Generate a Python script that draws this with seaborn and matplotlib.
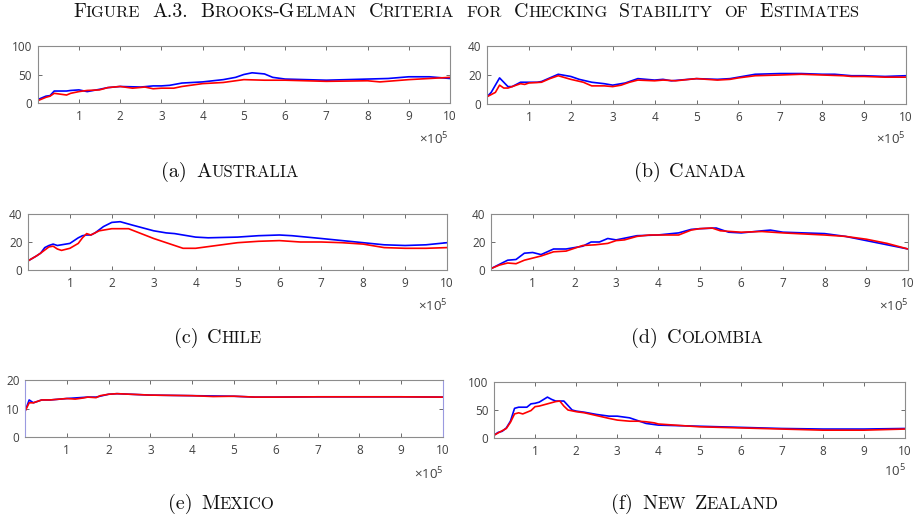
import re
import numpy as np
import pandas as pd
import matplotlib
matplotlib.use('Agg')
import matplotlib.pyplot as plt
import seaborn as sns

# ---------------- data (x in units of 1e5 iterations) ----------------
aus_blue_x = [0, 0.2, 0.3, 0.4, 0.5, 0.7, 0.8, 1.0, 1.2, 1.5, 1.7, 2.0, 2.5, 2.8, 3.0, 3.2, 3.5, 4.0, 4.5, 4.8, 5.0, 5.2, 5.5, 5.7, 6.0, 7.0, 8.0, 8.5, 9.0, 9.5, 10]
aus_blue_y = [6, 12, 13, 21, 21, 21, 22, 23, 20, 24, 27, 29, 28, 30, 30, 31, 35, 37, 41, 45, 50, 53, 51, 45, 42, 40, 42, 43, 46, 46, 43]
aus_red_x = [0, 0.2, 0.3, 0.4, 0.5, 0.7, 0.8, 1.0, 1.2, 1.5, 1.7, 2.0, 2.3, 2.6, 2.8, 3.0, 3.3, 3.5, 4.0, 4.5, 5.0, 5.5, 6.0, 7.0, 8.0, 8.3, 9.0, 10]
aus_red_y = [4, 10, 12, 17, 16, 14, 17, 20, 22, 23, 27, 29, 26, 28, 25, 26, 26, 29, 34, 36, 41, 40, 40, 38, 39, 37, 41, 45]

can_blue_x = [0, 0.1, 0.3, 0.5, 0.6, 0.8, 1.0, 1.2, 1.3, 1.5, 1.7, 2.0, 2.2, 2.5, 2.8, 3.0, 3.3, 3.6, 3.8, 4.0, 4.2, 4.4, 5.0, 5.5, 5.8, 6.0, 6.4, 7.0, 7.5, 8.0, 8.3, 8.7, 9.0, 9.5, 10]
can_blue_y = [5, 8, 18, 12, 12, 15, 15, 15, 15.5, 18, 20.5, 19, 17, 15, 14, 13, 14.5, 17.5, 17, 16.5, 17, 16, 17.5, 17, 17.5, 18.5, 20.5, 21, 21, 20.5, 20.5, 19.5, 19.5, 19, 19.5]
can_red_x = [0, 0.2, 0.3, 0.4, 0.5, 0.8, 0.9, 1.0, 1.3, 1.5, 1.7, 2.0, 2.3, 2.5, 2.8, 3.0, 3.2, 3.4, 3.6, 4.0, 4.2, 4.5, 5.0, 5.5, 5.8, 6.0, 6.4, 7.0, 7.5, 8.0, 8.5, 8.7, 9.0, 9.5, 10]
can_red_y = [5, 8, 13, 11, 11, 14, 13.5, 14.5, 15, 17.5, 19.5, 17, 15, 12.5, 12.5, 12, 13, 15, 16.5, 16, 16.5, 16, 17.5, 16.5, 17, 18, 19.5, 20, 20.5, 20, 19.5, 19, 19, 18.5, 18.5]

chi_blue_x = [0, 0.2, 0.3, 0.4, 0.5, 0.6, 0.7, 0.8, 1.0, 1.1, 1.2, 1.3, 1.4, 1.5, 1.6, 1.8, 2.0, 2.2, 2.5, 3.0, 3.3, 3.5, 4.0, 4.3, 5.0, 5.5, 6.0, 6.3, 7.0, 7.5, 8.0, 8.5, 9.0, 9.5, 10]
chi_blue_y = [6.5, 10, 12, 16, 17.5, 18.5, 17.5, 18, 19, 21, 23, 24.5, 25, 25, 26.5, 31, 34, 34.5, 32, 28, 26.5, 26, 23.5, 23, 23.5, 24.5, 25, 24.5, 22.5, 21, 19.5, 18, 17.5, 18, 19.5]
chi_red_x = [0, 0.2, 0.3, 0.5, 0.6, 0.7, 0.8, 1.0, 1.2, 1.3, 1.4, 1.5, 1.7, 2.0, 2.4, 2.7, 3.0, 3.3, 3.7, 4.0, 4.5, 5.0, 5.5, 6.0, 6.5, 7.0, 7.5, 8.0, 8.5, 9.0, 9.5, 10]
chi_red_y = [6.5, 10, 12, 16.5, 17, 15, 14, 15.5, 19, 23, 26, 25, 28, 29.5, 29.5, 26, 22.5, 19.5, 15.5, 15.5, 17.5, 19.5, 20.5, 21, 20, 20, 19.5, 18.5, 16, 15.5, 15.5, 16]

col_blue_x = [0, 0.2, 0.4, 0.6, 0.8, 1.0, 1.2, 1.5, 1.8, 2.0, 2.2, 2.4, 2.6, 2.8, 3.0, 3.5, 4.0, 4.5, 4.8, 5.0, 5.4, 5.7, 6.0, 6.5, 6.7, 7.0, 8.0, 8.5, 9.0, 9.5, 10]
col_blue_y = [1, 4, 7, 7.5, 12, 12.5, 11, 15, 15, 16, 17, 20, 20, 22.5, 21.5, 24.5, 25, 26.5, 29, 29.5, 30, 27, 26.5, 28, 28.5, 27, 26, 24, 21, 18, 15]
col_red_x = [0, 0.2, 0.4, 0.6, 0.8, 1.0, 1.2, 1.5, 1.8, 2.0, 2.2, 2.5, 2.8, 3.0, 3.2, 3.5, 3.8, 4.0, 4.5, 4.8, 5.0, 5.3, 5.5, 6.0, 6.5, 7.0, 8.0, 8.5, 9.0, 9.5, 10]
col_red_y = [1, 3.5, 5, 4.5, 7, 8.5, 10, 13, 13.5, 15.5, 17.5, 18, 19, 21, 21.5, 24, 25, 25, 25, 28.5, 29.5, 30, 28, 27, 27.5, 26.5, 25, 24, 22, 19, 15]

mex_blue_x = [0, 0.05, 0.1, 0.2, 0.4, 0.6, 1.0, 1.5, 1.7, 2.0, 2.2, 3.0, 4.0, 5.0, 5.5, 6.0, 7.0, 8.0, 9.0, 10]
mex_blue_y = [9, 11, 13, 12, 13, 13, 13.5, 14, 14, 15, 15.2, 14.7, 14.5, 14.3, 14, 14, 14.1, 14.1, 14.1, 14]
mex_red_x = [0, 0.1, 0.2, 0.4, 0.6, 1.0, 1.2, 1.4, 1.5, 1.7, 1.8, 2.0, 2.2, 3.0, 4.0, 4.5, 5.0, 5.5, 6.0, 7.0, 8.0, 9.0, 10]
mex_red_y = [9, 12, 12, 13, 13, 13.5, 13.3, 13.7, 14, 13.8, 14.5, 15, 15.2, 14.7, 14.5, 14.2, 14.3, 14, 14, 14.1, 14.1, 14.1, 14]

nz_blue_x = [0, 0.1, 0.2, 0.3, 0.4, 0.5, 0.6, 0.8, 0.9, 1.0, 1.1, 1.3, 1.4, 1.5, 1.7, 1.8, 1.9, 2.0, 2.2, 2.5, 2.8, 3.0, 3.3, 3.5, 3.7, 4.0, 5.0, 6.0, 7.0, 8.0, 9.0, 10]
nz_blue_y = [5, 10, 12, 18, 30, 53, 55, 55, 61, 62, 64, 73, 69, 66, 66, 58, 50, 48, 46, 42, 39, 39, 36, 31, 26, 23, 21, 19, 17, 16, 16, 17]
nz_red_x = [0, 0.1, 0.3, 0.4, 0.5, 0.6, 0.7, 0.9, 1.0, 1.1, 1.3, 1.5, 1.6, 1.7, 1.8, 2.0, 2.2, 2.5, 2.8, 3.0, 3.3, 3.5, 3.7, 3.9, 4.0, 5.0, 6.0, 7.0, 8.0, 9.0, 10]
nz_red_y = [5, 9, 17, 28, 43, 45, 43, 49, 56, 57, 61, 65, 66, 57, 50, 47, 45, 40, 35, 32, 30, 30, 29, 27, 25, 20, 18, 16, 14, 14, 16]

titles = ["(a) Australia", "(b) Canada", "(c) Chile", "(d) Colombia", "(e) Mexico", "(f) New Zealand"]
ymaxes = [100, 40, 40, 40, 20, 100]
yticks_list = [[0, 50, 100], [0, 20, 40], [0, 20, 40], [0, 20, 40], [0, 10, 20], [0, 50, 100]]
xticks = [1, 2, 3, 4, 5, 6, 7, 8, 9, 10]
exp_labels = [r'$\times10^{5}$'] * 5 + [r'$10^{5}$']
fig_title = "Figure A.3. Brooks-Gelman Criteria for Checking Stability of Estimates"

series = [
    (aus_blue_x, aus_blue_y, aus_red_x, aus_red_y),
    (can_blue_x, can_blue_y, can_red_x, can_red_y),
    (chi_blue_x, chi_blue_y, chi_red_x, chi_red_y),
    (col_blue_x, col_blue_y, col_red_x, col_red_y),
    (mex_blue_x, mex_blue_y, mex_red_x, mex_red_y),
    (nz_blue_x, nz_blue_y, nz_red_x, nz_red_y),
]

# ---------------- style ----------------
sns.set_style('white')
plt.rcParams['font.family'] = ['Open Sans', 'DejaVu Sans']
plt.rcParams['mathtext.fontset'] = 'custom'
plt.rcParams['mathtext.rm'] = 'Open Sans'
plt.rcParams['mathtext.it'] = 'Open Sans'

W, H = 914, 519
fig = plt.figure(figsize=(W / 100, H / 100), dpi=100)
fig.patch.set_facecolor('white')

# axes boxes in pixels: left, right, top, bottom
boxes = [
    (37.7, 450, 46, 103),
    (487, 906, 46, 104),
    (28, 447, 214, 270),
    (491, 908, 214, 270),
    (25, 443, 380, 437),
    (494, 905, 382, 438),
]
exp_pos = [(449, 139), (906, 139), (448, 306), (909, 306), (444, 474), (906, 471)]
cap_pos = [(230, 177), (690, 177), (218, 343), (697, 343), (221, 509), (695, 509)]

spine_col = '#8c8c8c'
text_col = '#404040'

for i, (l, r, t, b) in enumerate(boxes):
    ax = fig.add_axes([l / W, 1 - b / H, (r - l) / W, (b - t) / H])
    bx, by, rx, ry = series[i]
    dfb = pd.DataFrame({'x': bx, 'y': by})
    dfr = pd.DataFrame({'x': rx, 'y': ry})
    sns.lineplot(data=dfb, x='x', y='y', color='#0000ff', lw=1.2, estimator=None, sort=False, ax=ax)
    sns.lineplot(data=dfr, x='x', y='y', color='#ff0000', lw=1.2, estimator=None, sort=False, ax=ax)
    ax.set_xlim(0, 10)
    ax.set_ylim(0, ymaxes[i])
    ax.set_xticks(xticks)
    ax.set_xticklabels([str(v) for v in xticks])
    ax.set_yticks(yticks_list[i])
    ax.set_xlabel('')
    ax.set_ylabel('')
    ax.tick_params(direction='in', top=True, bottom=True, left=True, right=True,
                   length=3, width=0.6, color='#555555', labelcolor=text_col, labelsize=8.5)
    ax.tick_params(axis='x', pad=5)
    ax.tick_params(axis='y', pad=4)
    for sp in ax.spines.values():
        sp.set_color(spine_col)
        sp.set_linewidth(0.8)
        sp.set_visible(True)
    if i == 4:
        ax.spines['left'].set_color('#9a9ae0')
        ax.spines['right'].set_color('#9a9ae0')
    ex, ey = exp_pos[i]
    fig.text(ex / W, 1 - ey / H, exp_labels[i], ha='right', va='center', fontsize=9.5, color=text_col)

renderer = fig.canvas.get_renderer()


def small_caps(xc, yb, s, big, small, prefix=None, family='cmr10', word_gap=1.0):
    texts = []
    gaps = []
    probe1 = fig.text(0, 0, 'A A', fontsize=big, family=family)
    probe2 = fig.text(0, 0, 'AA', fontsize=big, family=family)
    sp = probe1.get_window_extent(renderer).width - probe2.get_window_extent(renderer).width
    probe1.remove(); probe2.remove()
    sp *= word_gap
    items = []
    if prefix is not None:
        items.append((prefix, big, True))
    for w in s.split(' '):
        runs = re.findall(r'[a-z]+|[^a-z]+', w)
        for j, run in enumerate(runs):
            if run.islower():
                items.append((run.upper(), small, j == len(runs) - 1))
            else:
                items.append((run, big, j == len(runs) - 1))
    for txt, sz, endword in items:
        t = fig.text(0, 1 - yb / H, txt, fontsize=sz, family=family, ha='left', va='baseline', color='#111111')
        texts.append(t)
        gaps.append(sp if endword else 0.0)
    gaps[-1] = 0.0
    widths = [t.get_window_extent(renderer).width for t in texts]
    total = sum(widths) + sum(gaps)
    x = xc - total / 2
    for t, w, g in zip(texts, widths, gaps):
        t.set_x(x / W)
        x += w + g


small_caps(466, 17, fig_title, 14.3, 11.8, word_gap=1.8)
for i, cap in enumerate(titles):
    pre, name = cap.split(' ', 1)
    small_caps(cap_pos[i][0], cap_pos[i][1], name, 14.5, 12, prefix=pre, word_gap=1.3)

fig.savefig('out.png', dpi=100, facecolor='white')
